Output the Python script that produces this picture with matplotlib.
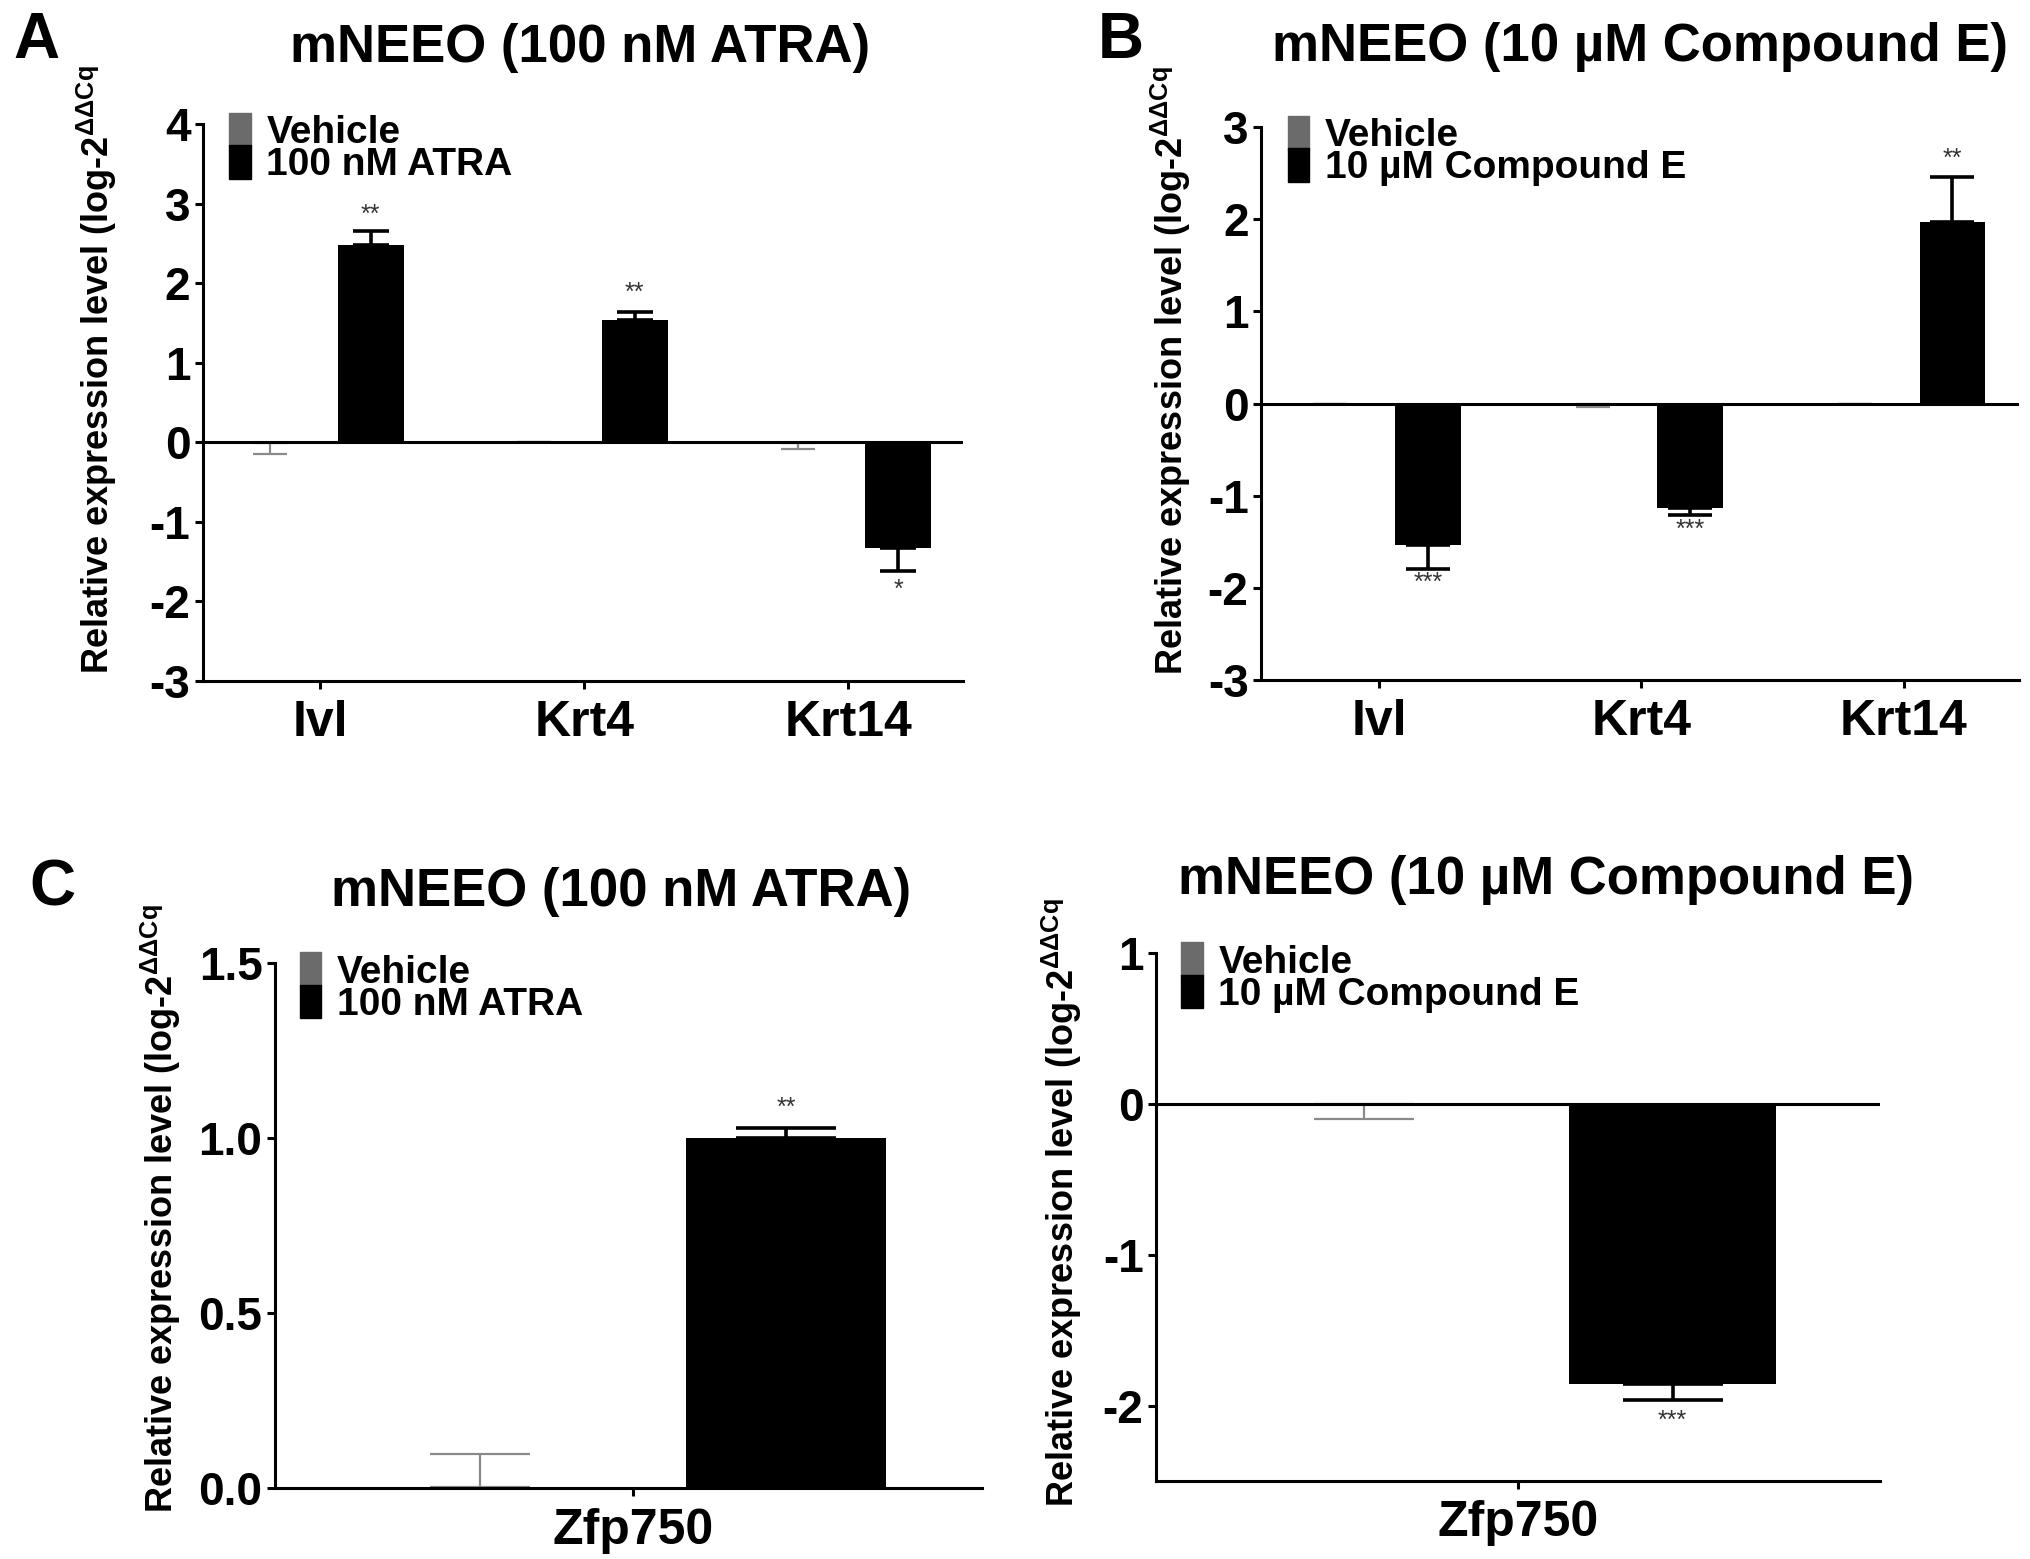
import numpy as np
import matplotlib
matplotlib.use("Agg")
import matplotlib.pyplot as plt
from matplotlib.patches import Patch

plt.rcParams.update({"font.family": ["Liberation Sans", "DejaVu Sans"], "font.weight": "bold",
                     "axes.labelweight": "bold", "mathtext.default": "regular", "axes.linewidth": 2.2})

GREY = "#6b6b6b"; INK = "#000000"

# panel A / B: three genes
genes = ["Ivl", "Krt4", "Krt14"]
a_veh = [-0.01, 0.0, -0.01]; a_veh_err = [0.14, 0.0, 0.08]
a_atra = [2.48, 1.54, -1.33]; a_atra_err = [0.18, 0.10, 0.29]
a_stars = ["**", "**", "*"]; a_star_y = [2.86, 1.88, -1.86]
b_veh = [0.0, -0.01, 0.0]; b_veh_err = [0.0, 0.03, 0.0]
b_ce = [-1.53, -1.13, 1.97]; b_ce_err = [0.27, 0.08, 0.49]
b_stars = ["***", "***", "**"]; b_star_y = [-1.95, -1.37, 2.65]
# panel C / D: Zfp750
zfp = ["Zfp750"]
c_veh = [0.002]; c_veh_err = [0.095]
c_atra = [1.0]; c_atra_err = [0.03]
c_stars = ["**"]; c_star_y = [1.085]
d_veh = [-0.002]; d_veh_err = [0.10]
d_ce = [-1.86]; d_ce_err = [0.10]
d_stars = ["***"]; d_star_y = [-2.10]

YLAB = r"Relative expression level (log-2$^{\Delta\Delta Cq}$"


def one_sided(vals, errs):
    vals = np.asarray(vals); errs = np.asarray(errs)
    return [np.where(vals < 0, errs, 0), np.where(vals >= 0, errs, 0)]


def panel(ax, cats, veh, veh_err, trt, trt_err, stars, star_y, off, width, caps, trt_label,
          ylim, yticks, ytl, zero_line, xlim, title, title_x, title_y, lab_xy):
    x = np.arange(len(cats))
    ax.bar(x - off, veh, width, color=GREY, label="Vehicle")
    ax.bar(x + off, trt, width, color=INK, label=trt_label)
    ax.errorbar(x - off, veh, yerr=one_sided(veh, veh_err), fmt="none", ecolor="#8a8a8a",
                elinewidth=1.6, capsize=caps[0], capthick=1.6)
    ax.errorbar(x + off, trt, yerr=one_sided(trt, trt_err), fmt="none", ecolor=INK,
                elinewidth=2.6, capsize=caps[1], capthick=2.6)
    for xi, s, sy in zip(x + off, stars, star_y):
        ax.text(xi, sy, s, ha="center", va="center", fontsize=18, color="#333333", fontweight="normal")
    if zero_line:
        ax.axhline(0, color=INK, lw=2.2, zorder=3)
    ax.set_xlim(*xlim); ax.set_ylim(*ylim)
    ax.set_xticks(x); ax.set_xticklabels(cats, fontsize=36)
    ax.set_yticks(yticks); ax.set_yticklabels(ytl, fontsize=33)
    ax.tick_params(axis="y", length=6, width=2.2, pad=3)
    ax.tick_params(axis="x", length=6, width=2.2, pad=8)
    for s in ("top", "right"):
        ax.spines[s].set_visible(False)
    ax.set_ylabel(YLAB, fontsize=26, fontweight="bold")
    ax.yaxis.set_label_coords(*lab_xy)
    ax.text(title_x, title_y, title, transform=ax.transAxes, ha="center", va="baseline", fontsize=38)
    ax.legend(handles=[Patch(color=GREY, label="Vehicle"), Patch(color=INK, label=trt_label)],
              loc="upper left", bbox_to_anchor=(0.035, 1.02), frameon=False, fontsize=28,
              handlelength=0.55, handleheight=0.95, handletextpad=0.4, labelspacing=-0.15,
              borderpad=0, borderaxespad=0)


fig = plt.figure(figsize=(20.31, 15.59), dpi=100)
axA = fig.add_axes([0.0999, 0.5632, 0.3742, 0.3573])
axB = fig.add_axes([0.6209, 0.5638, 0.3732, 0.3547])
axC = fig.add_axes([0.1354, 0.0455, 0.3481, 0.3368])
axD = fig.add_axes([0.5692, 0.0500, 0.3565, 0.3387])

panel(axA, genes, a_veh, a_veh_err, a_atra, a_atra_err, a_stars, a_star_y, 0.19, 0.25, (12, 13),
      "100 nM ATRA", (-3, 4), range(-3, 5), [str(v) for v in range(-3, 5)], True, (-0.445, 2.434),
      "mNEEO (100 nM ATRA)", 0.496, 1.111, (-0.11, 0.558))
panel(axB, genes, b_veh, b_veh_err, b_ce, b_ce_err, b_stars, b_star_y, 0.186, 0.25, (12, 16),
      "10 \u00b5M Compound E", (-3, 3), range(-3, 4), [str(v) for v in range(-3, 4)], True, (-0.45, 2.44),
      "mNEEO (10 \u00b5M Compound E)", 0.5, 1.119, (-0.09, 0.56))
panel(axC, zfp, c_veh, c_veh_err, c_atra, c_atra_err, c_stars, c_star_y, 0.383, 0.5, (36, 36),
      "100 nM ATRA", (0, 1.5), [0, 0.5, 1.0, 1.5], ["0.0", "0.5", "1.0", "1.5"], False, (-0.895, 0.8725),
      "mNEEO (100 nM ATRA)", 0.49, 1.109, (-0.13, 0.533))
panel(axD, zfp, d_veh, d_veh_err, d_ce, d_ce_err, d_stars, d_star_y, 0.373, 0.5, (36, 36),
      "10 \u00b5M Compound E", (-2.5, 1), [-2, -1, 0, 1], ["-2", "-1", "0", "1"], True, (-0.874, 0.874),
      "mNEEO (10 \u00b5M Compound E)", 0.539, 1.112, (-0.1, 0.527))

for lab, px, py in [("A", 13, 58), ("B", 1098, 58), ("C", 29, 905)]:
    fig.text(px / 2031, 1 - py / 1559, lab, fontsize=46, ha="left", va="baseline")

fig.savefig("out.png", dpi=100, facecolor="white")
